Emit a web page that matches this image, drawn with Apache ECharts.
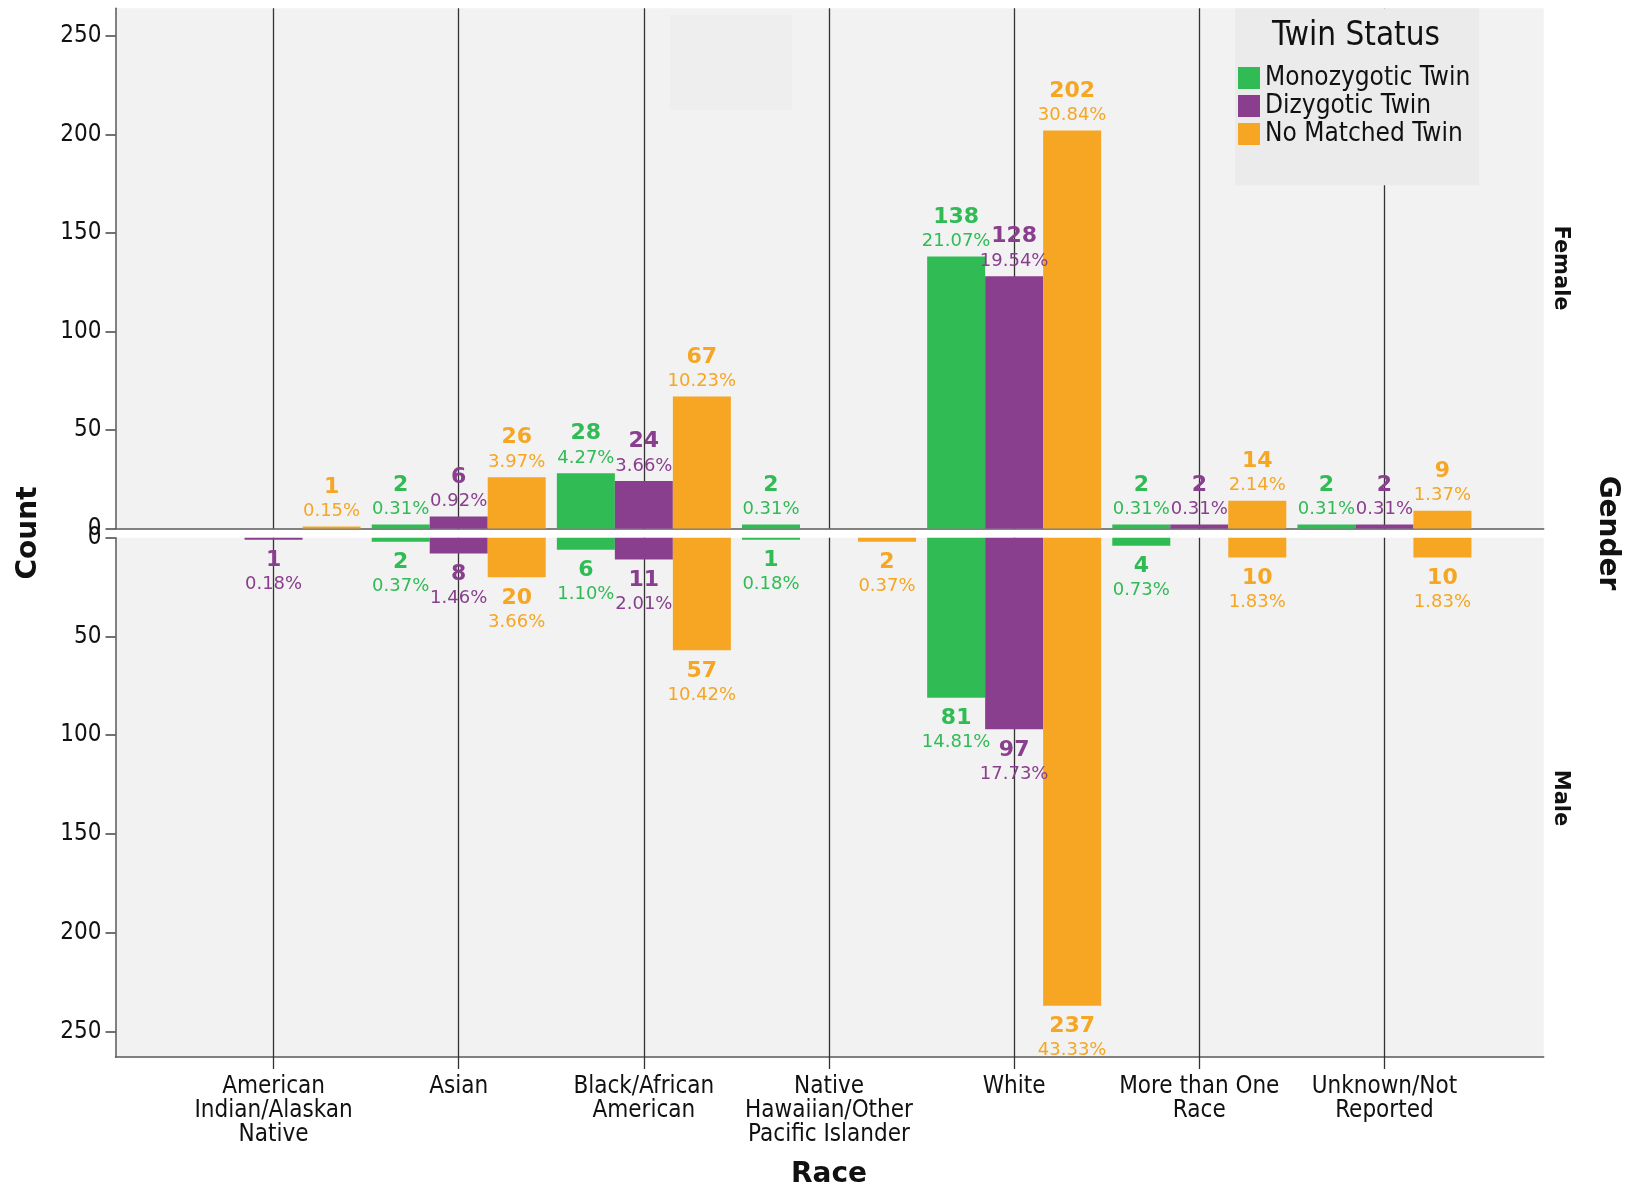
<!DOCTYPE html>
<html>
<head>
<meta charset="utf-8">
<script src="https://cdn.jsdelivr.net/npm/echarts@6/dist/echarts.min.js"></script>
<style>html,body{margin:0;padding:0;background:#fff}#c{width:1631px;height:1190px}</style>
</head>
<body>
<div id="c"></div>
<script>
const categories = ['American\nIndian/Alaskan\nNative', 'Asian', 'Black/African\nAmerican', 'Native\nHawaiian/Other\nPacific Islander', 'White', 'More than One\nRace', 'Unknown/Not\nReported'];
const seriesNames = ['Monozygotic Twin', 'Dizygotic Twin', 'No Matched Twin'];
const seriesColors = ['#30bb55', '#8a3e8e', '#f6a623'];
const yTicks = [0, 50, 100, 150, 200, 250];

const femaleMono = [null, 2, 28, 2, 138, 2, 2];
const femaleDizy = [null, 6, 24, null, 128, 2, 2];
const femaleNone = [1, 26, 67, null, 202, 14, 9];
const femaleMonoPct = [null, '0.31%', '4.27%', '0.31%', '21.07%', '0.31%', '0.31%'];
const femaleDizyPct = [null, '0.92%', '3.66%', null, '19.54%', '0.31%', '0.31%'];
const femaleNonePct = ['0.15%', '3.97%', '10.23%', null, '30.84%', '2.14%', '1.37%'];

const maleMono = [null, 2, 6, 1, 81, 4, null];
const maleDizy = [1, 8, 11, null, 97, null, null];
const maleNone = [null, 20, 57, 2, 237, 10, 10];
const maleMonoPct = [null, '0.37%', '1.10%', '0.18%', '14.81%', '0.73%', null];
const maleDizyPct = ['0.18%', '1.46%', '2.01%', null, '17.73%', null, null];
const maleNonePct = [null, '3.66%', '10.42%', '0.37%', '43.33%', '1.83%', '1.83%'];

const COND = '"DejaVu Sans Condensed", "DejaVu Sans", sans-serif';
const DV = '"DejaVu Sans", sans-serif';
const AXC = '#5a5a5a';

const femaleSets = [[femaleMono, femaleMonoPct], [femaleDizy, femaleDizyPct], [femaleNone, femaleNonePct]];
const maleSets = [[maleMono, maleMonoPct], [maleDizy, maleDizyPct], [maleNone, maleNonePct]];

function makeSeries(sets, female) {
  return sets.map(([vals, pcts], i) => ({
    name: seriesNames[i],
    type: 'bar',
    xAxisIndex: female ? 2 : 3,
    yAxisIndex: female ? 2 : 3,
    data: vals,
    barWidth: 58,
    barGap: '0%',
    itemStyle: { color: seriesColors[i] },
    emphasis: { disabled: true },
    label: {
      show: true,
      position: female ? 'top' : 'bottom',
      distance: female ? 3 : 8,
      color: seriesColors[i],
      formatter: p => '{c|' + p.value + '}\n{p|' + pcts[p.dataIndex] + '}',
      rich: {
        c: { fontSize: 22, fontWeight: 'bold', fontFamily: DV, lineHeight: 25, color: seriesColors[i] },
        p: { fontSize: 18, fontFamily: DV, lineHeight: 24, color: seriesColors[i] }
      }
    }
  }));
}

const chart = echarts.init(document.getElementById('c'), null, { renderer: 'canvas' });
const fTop = 8.3, fH = 520.1, mTop = 537.8, mH = 519.2;
const bgL = 115.5, bgW = 1428.2, barL = 181, barW = 1296;

const bgXAxis = (g) => ({ gridIndex: g, type: 'value', min: 0, max: 1, position: 'bottom',
  axisLine: { show: true, onZero: false, lineStyle: { color: AXC, width: 1.5 } },
  axisTick: { show: false }, axisLabel: { show: false }, splitLine: { show: false } });
const bgYAxis = (g, max, inv) => ({ gridIndex: g, type: 'value', min: 0, max: max, inverse: inv, splitLine: { show: false },
  axisLine: { show: true, onZero: false, lineStyle: { color: AXC, width: 1.5 } },
  axisTick: { show: true, length: 10, customValues: yTicks, lineStyle: { color: '#444', width: 1.5 } },
  axisLabel: { show: true, customValues: yTicks, margin: 14, fontSize: 24, fontFamily: COND, color: '#111' } });

const option = {
  animation: false,
  backgroundColor: '#ffffff',
  grid: [
    { left: bgL, top: fTop, width: bgW, height: fH, show: true, backgroundColor: '#f2f2f2', borderWidth: 0 },
    { left: bgL, top: mTop, width: bgW, height: mH, show: true, backgroundColor: '#f2f2f2', borderWidth: 0 },
    { left: barL, top: fTop, width: barW, height: fH },
    { left: barL, top: mTop, width: barW, height: mH }
  ],
  xAxis: [
    bgXAxis(0),
    bgXAxis(1),
    { gridIndex: 2, type: 'category', data: categories, position: 'bottom', axisLine: { show: false, onZero: false }, axisLabel: { show: false },
      axisTick: { show: true, inside: true, alignWithLabel: true, length: fH, lineStyle: { color: '#333', width: 1.3 } }, splitLine: { show: false } },
    { gridIndex: 3, type: 'category', data: categories, position: 'top', axisLine: { show: false, onZero: false }, axisLabel: { show: false },
      axisTick: { show: true, inside: true, alignWithLabel: true, length: mH + 12, lineStyle: { color: '#333', width: 1.3 } }, splitLine: { show: false } },
    { gridIndex: 3, type: 'category', data: categories, position: 'bottom', axisLine: { show: false, onZero: false }, axisTick: { show: false }, splitLine: { show: false },
      axisLabel: { show: true, interval: 0, margin: 18, fontSize: 24, lineHeight: 24, fontFamily: COND, color: '#111' } }
  ],
  yAxis: [
    bgYAxis(0, 264, false),
    bgYAxis(1, 263, true),
    { gridIndex: 2, type: 'value', min: 0, max: 264, show: false, splitLine: { show: false } },
    { gridIndex: 3, type: 'value', min: 0, max: 263, inverse: true, show: false, splitLine: { show: false } }
  ],
  legend: {
    data: seriesNames,
    orient: 'vertical',
    left: 1238,
    top: 65,
    padding: 0,
    itemWidth: 22,
    itemHeight: 22,
    itemGap: 2,
    icon: 'rect',
    selectedMode: false,
    textStyle: { fontSize: 26, lineHeight: 22, fontFamily: COND, color: '#111' }
  },
  graphic: [
    { type: 'rect', z: 1, shape: { x: 1235, y: 8.3, width: 244, height: 177 }, style: { fill: '#ebebeb' } },
    { type: 'rect', z: 1, shape: { x: 670, y: 15, width: 122, height: 95 }, style: { fill: '#eeeeee' } },
    { type: 'text', z: 5, x: 1356, y: 36, style: { text: 'Twin Status', font: '33px ' + COND, fill: '#111', align: 'center', verticalAlign: 'middle', textAlign: 'center', textVerticalAlign: 'middle' } },
    { type: 'text', z: 5, x: 29, y: 533, rotation: Math.PI / 2, style: { text: 'Count', font: 'bold 28px ' + DV, fill: '#111', align: 'center', verticalAlign: 'middle', textAlign: 'center', textVerticalAlign: 'middle' } },
    { type: 'text', z: 5, x: 829, y: 1175, style: { text: 'Race', font: 'bold 28px ' + DV, fill: '#111', align: 'center', verticalAlign: 'middle', textAlign: 'center', textVerticalAlign: 'middle' } },
    { type: 'text', z: 5, x: 1607, y: 533, rotation: -Math.PI / 2, style: { text: 'Gender', font: 'bold 28px ' + DV, fill: '#111', align: 'center', verticalAlign: 'middle', textAlign: 'center', textVerticalAlign: 'middle' } },
    { type: 'text', z: 5, x: 1560, y: 268, rotation: -Math.PI / 2, style: { text: 'Female', font: 'bold 21px ' + DV, fill: '#111', align: 'center', verticalAlign: 'middle', textAlign: 'center', textVerticalAlign: 'middle' } },
    { type: 'text', z: 5, x: 1560, y: 798, rotation: -Math.PI / 2, style: { text: 'Male', font: 'bold 21px ' + DV, fill: '#111', align: 'center', verticalAlign: 'middle', textAlign: 'center', textVerticalAlign: 'middle' } }
  ],
  series: [...makeSeries(femaleSets, true), ...makeSeries(maleSets, false)]
};
chart.setOption(option);
</script>
</body>
</html>
